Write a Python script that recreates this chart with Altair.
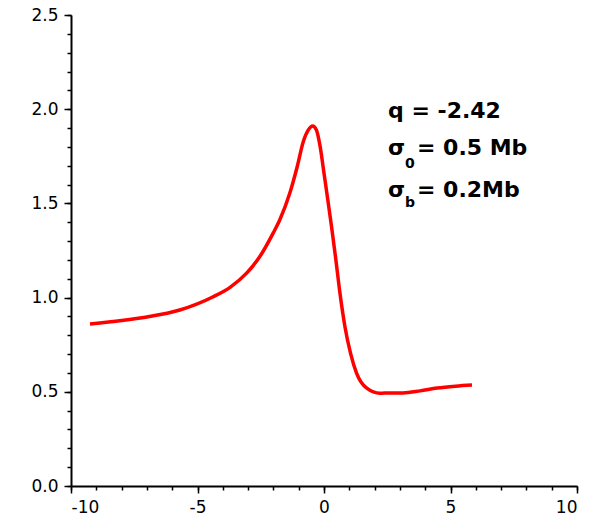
import altair as alt
import pandas as pd

# Curve values
x_vals = [-9.25, -8.0, -7.0, -5.7, -4.4, -3.7, -3.05, -2.55, -2.0, -1.75, -1.35, -1.05,
          -0.82, -0.62, -0.45, -0.3, -0.15, 0.0, 0.15, 0.3, 0.47, 0.63, 0.83, 1.05,
          1.29, 1.69, 2.21, 2.61, 3.12, 3.8, 4.47, 5.2, 5.85]
y_vals = [0.86, 0.878, 0.897, 0.934, 1.003, 1.056, 1.131, 1.215, 1.345, 1.412, 1.555, 1.70,
          1.827, 1.89, 1.911, 1.89, 1.80, 1.66, 1.52, 1.375, 1.20, 1.024, 0.844, 0.704,
          0.598, 0.519, 0.492, 0.494, 0.494, 0.505, 0.52, 0.53, 0.536]

x_major = [-10, -5, 0, 5, 10]
x_minor = list(range(-10, 11))
y_major = [0.0, 0.5, 1.0, 1.5, 2.0, 2.5]
y_minor = [round(i * 0.1, 1) for i in range(26)]

# Annotation texts
main_texts = ["q = -2.42", "\u03c3", "= 0.5 Mb", "\u03c3", "= 0.2Mb"]
sub_texts = ["0", "b"]

df = pd.DataFrame({"x": x_vals, "y": y_vals})

xs = alt.Scale(domain=[-10, 10], nice=False, zero=False)
ys = alt.Scale(domain=[0, 2.5], nice=False, zero=False)

label_expr_x = "datum.value < 0 ? '-' + format(-datum.value, 'd') : format(datum.value, 'd')"

axis_style = dict(domainColor="black", domainWidth=2, tickColor="black", tickWidth=1.5,
                  labelFont="DejaVu Sans", labelFontSize=17, labelColor="black",
                  title=None, grid=False)

line = alt.Chart(df).mark_line(color="#FF0000", strokeWidth=3.5, interpolate="monotone").encode(
    x=alt.X("x:Q", scale=xs, axis=alt.Axis(orient="bottom", values=x_major, labelExpr=label_expr_x,
                                           tickSize=7, labelPadding=6, **axis_style)),
    y=alt.Y("y:Q", scale=ys, axis=alt.Axis(orient="left", values=y_major, format=".1f",
                                           tickSize=7, labelPadding=6, **axis_style)),
)

minor = alt.Chart(df).mark_line(opacity=0).encode(
    x=alt.X("x:Q", scale=xs, axis=alt.Axis(orient="bottom", values=x_minor, labels=False,
                                           domain=False, tickSize=4, **axis_style)),
    y=alt.Y("y:Q", scale=ys, axis=alt.Axis(orient="left", values=y_minor, labels=False,
                                           domain=False, tickSize=4, **axis_style)),
)

def txt(t, px, py, size, bold=True):
    return alt.Chart(pd.DataFrame({"t": [t]})).mark_text(
        align="left", baseline="alphabetic", font="DejaVu Sans",
        fontSize=size, fontWeight="bold" if bold else "normal", color="black"
    ).encode(x=alt.value(px), y=alt.value(py), text="t:N")

texts = [
    txt(main_texts[0], 317, 103, 22),
    txt(main_texts[1], 317, 140, 22),
    txt(sub_texts[0], 334, 153, 14),
    txt(main_texts[2], 346, 140, 22),
    txt(main_texts[3], 317, 182, 22),
    txt(sub_texts[1], 334, 192, 14),
    txt(main_texts[4], 346, 182, 22),
]

chart = alt.layer(minor, line, *texts).resolve_axis(x="independent", y="independent").properties(
    width=506, height=471,
    background="white",
    autosize=alt.AutoSizeParams(type="none"),
    padding={"left": 71, "top": 15, "right": 20, "bottom": 39},
).configure_view(stroke=None)

chart.save("out.html", embed_options={"renderer": "svg", "actions": False})
